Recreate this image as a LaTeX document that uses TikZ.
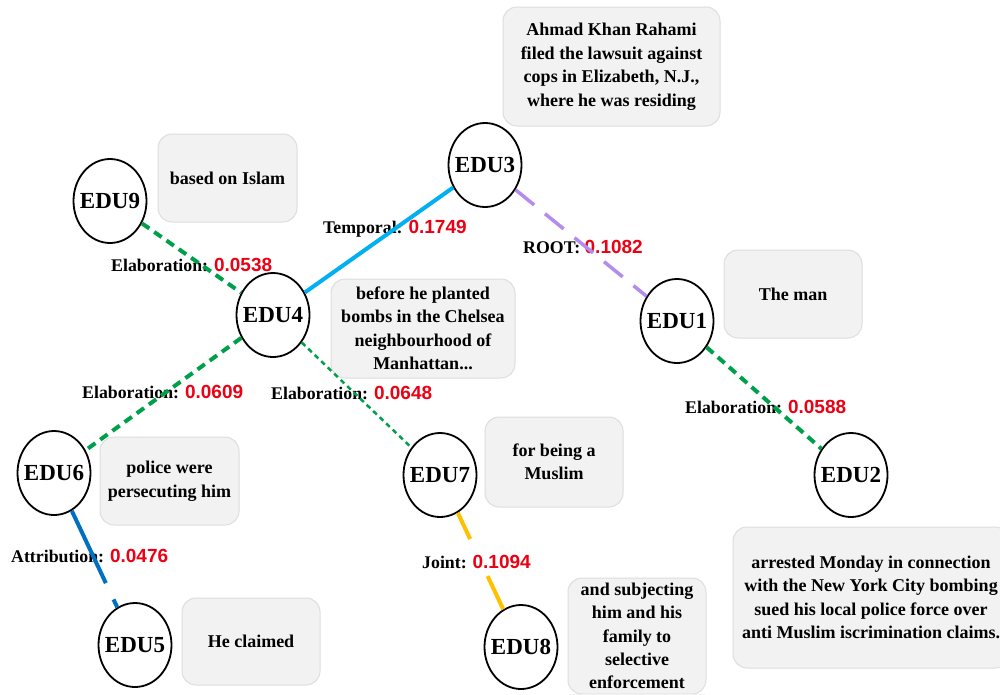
\documentclass[tikz,border=0pt]{standalone}
\usepackage{fontspec}
\setmainfont{Liberation Serif}
\setsansfont{Liberation Sans}
\usetikzlibrary{shapes.geometric}
\definecolor{boxfill}{RGB}{242,242,242}
\definecolor{boxline}{RGB}{222,222,222}
\definecolor{elabgreen}{RGB}{0,160,75}
\definecolor{tempblue}{RGB}{0,176,240}
\definecolor{attrblue}{RGB}{0,112,192}
\definecolor{rootpurple}{RGB}{180,140,235}
\definecolor{jointyellow}{RGB}{255,192,0}
\definecolor{numred}{RGB}{235,0,20}
\newcommand\rednum[1]{{\sffamily\bfseries\fontsize{19}{19}\selectfont\color{numred}#1}}
\tikzset{
  edu/.style={draw=black, line width=1.8pt, ellipse, minimum width=73pt, minimum height=84pt, inner xsep=-8pt, inner ysep=0pt, font=\bfseries\fontsize{23}{23}\selectfont},
  txtbox/.style={draw=boxline, fill=boxfill, line width=1pt, rounded corners=14pt, align=center, inner sep=0pt, font=\bfseries\fontsize{18}{23.5}\selectfont},
  elabel/.style={anchor=base west, inner sep=0pt, font=\bfseries\fontsize{17.8}{18}\selectfont},
  elab/.style={draw=elabgreen, line width=4pt, dash pattern=on 9pt off 6pt},
  elabthin/.style={draw=elabgreen, line width=2.5pt, dash pattern=on 5pt off 4pt},
  temporal/.style={draw=tempblue, line width=4pt},
  rootedge/.style={draw=rootpurple, line width=3.5pt, dash pattern=on 24pt off 14pt},
  attribution/.style={draw=attrblue, line width=4pt, dash pattern=on 80pt off 18pt on 40pt off 1pt},
  jointedge/.style={draw=jointyellow, line width=4pt, dash pattern=on 29pt off 41pt on 60pt off 1pt}
}
\begin{document}
\begin{tikzpicture}[x=1pt,y=-1pt]
\useasboundingbox (0,0) rectangle (1000,694);
\clip (0,0) rectangle (1000,694);
\fill[white] (0,0) rectangle (1000,694);

% text boxes
\node[txtbox, minimum width=139pt, minimum height=88pt] (b9) at (227.5,178) {based on Islam};
\node[txtbox, minimum width=217pt, minimum height=119pt] (b3) at (611.5,66.5) {Ahmad Khan Rahami\\filed the lawsuit against\\cops in Elizabeth, N.J.,\\where he was residing};
\node[txtbox, minimum width=184pt, minimum height=99pt] (b4) at (423,328.5) {before he planted\\bombs in the Chelsea\\neighbourhood of\\Manhattan...};
\node[txtbox, minimum width=138pt, minimum height=88pt] (b1) at (793,294) {The man};
\node[txtbox, minimum width=139pt, minimum height=88pt] (b6) at (169.5,481) {police were\\persecuting him};
\node[txtbox, minimum width=138pt, minimum height=87pt] (b5) at (251,641.5) {He claimed};
\node[txtbox, minimum width=138pt, minimum height=90pt] (b7) at (554,462) {for being a\\Muslim};
\node[txtbox, minimum width=138pt, minimum height=116pt, font=\bfseries\fontsize{18}{23.2}\selectfont] (b8) at (637,636) {and subjecting\\him and his\\family to\\selective\\enforcement};
\fill[boxfill] (b8.south west) ++(1,-0.5) rectangle ++(136,12);
\node[txtbox, minimum width=276pt, minimum height=141pt] (b2) at (871,597.5) {arrested Monday in connection\\with the New York City bombing\\sued his local police force over\\anti Muslim iscrimination claims.};

% EDU nodes
\node[edu] (edu9) at (110,201) {EDU9};
\node[edu] (edu4) at (273,315) {EDU4};
\node[edu] (edu3) at (485,165) {EDU3};
\node[edu] (edu1) at (677,321) {EDU1};
\node[edu] (edu2) at (851,475) {EDU2};
\node[edu] (edu6) at (54,473) {EDU6};
\node[edu] (edu5) at (135,645) {EDU5};
\node[edu] (edu7) at (440,475) {EDU7};
\node[edu] (edu8) at (521,647) {EDU8};

% edge labels
\node[elabel] (l94) at (111,271) {Elaboration: \rednum{0.0538}};
\node[elabel] (l43) at (323,233) {Temporal: \rednum{0.1749}};
\node[elabel] (l31) at (523,253) {ROOT: \rednum{0.1082}};
\node[elabel] (l46) at (82,398) {Elaboration: \rednum{0.0609}};
\node[elabel] (l47) at (271,399) {Elaboration: \rednum{0.0648}};
\node[elabel] (l12) at (685,413) {Elaboration: \rednum{0.0588}};
\node[elabel] (l65) at (11,562) {Attribution: \rednum{0.0476}};
\node[elabel] (l78) at (422,568) {Joint: \rednum{0.1094}};

% connectors
\draw[elab] (edu9) -- (edu4);
\draw[temporal] (edu4) -- (edu3);
\draw[rootedge] (edu3) -- (edu1);
\draw[elab] (edu1) -- (edu2);
\draw[elab] (edu4) -- (edu6);
\draw[elabthin] (edu4) -- (edu7);
\draw[attribution] (edu6) -- (edu5);
\draw[jointedge] (edu7) -- (edu8);
\end{tikzpicture}
\end{document}
